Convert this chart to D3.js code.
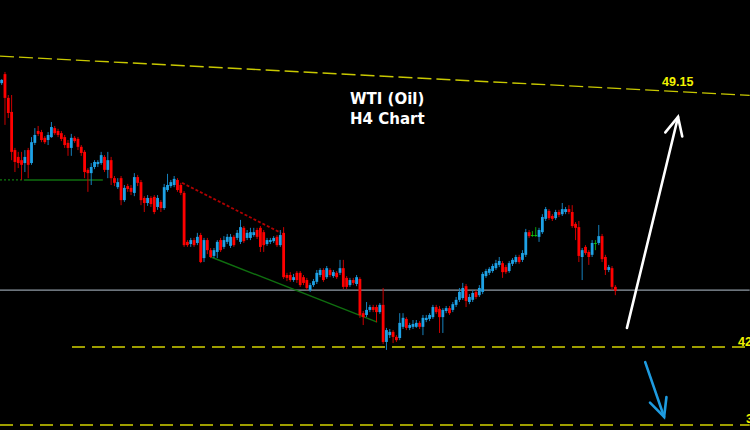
<!DOCTYPE html>
<html><head><meta charset="utf-8">
<script src="https://cdn.jsdelivr.net/npm/d3@7"></script>
<style>html,body{margin:0;padding:0;background:#000;overflow:hidden}</style>
</head><body><svg id="c" width="750" height="430"></svg>
<script>
// ---- H4 candles (WTI) ----
const opens = [49.33,49.58,48.92,48.53,47.47,47.28,47.19,47.11,47.47,47.11,
47.67,48.00,47.97,47.81,47.75,47.83,48.08,48.00,47.94,47.83,
47.67,47.53,47.81,47.78,47.56,47.42,46.92,46.83,47.00,47.08,
47.11,47.28,46.92,47.19,46.69,46.44,46.69,46.08,46.47,46.42,
46.28,46.72,46.58,46.14,46.00,46.14,46.17,45.89,46.03,45.86,
46.36,46.47,46.50,46.64,46.50,46.28,44.92,44.86,44.97,44.89,
45.11,44.47,44.97,44.69,44.53,44.64,44.97,44.78,44.92,44.81,
45.06,45.03,44.92,45.31,45.03,45.03,45.11,45.25,45.31,45.19,
44.86,44.92,44.94,45.06,44.83,45.17,44.00,44.00,43.86,44.06,
44.06,43.94,43.86,43.58,43.72,43.81,44.00,44.14,43.94,44.14,
43.97,44.06,44.06,44.19,43.92,43.72,43.86,43.75,43.89,42.94,
42.89,43.03,43.11,43.11,42.97,43.17,42.14,42.33,42.42,42.28,
42.25,42.56,42.78,42.53,42.56,42.56,42.67,42.56,42.75,42.78,
42.83,43.11,43.06,42.83,43.00,43.08,43.03,43.17,43.31,43.36,
43.69,43.25,43.31,43.53,43.44,43.53,43.97,44.06,44.11,44.19,
44.28,44.33,44.22,44.11,44.31,44.36,44.50,44.42,44.56,45.19,
45.11,45.11,45.06,45.19,45.56,45.78,45.64,45.58,45.75,45.69,
45.75,45.83,45.75,45.42,45.33,44.50,44.78,44.64,44.56,44.89,
44.89,45.08,44.50,44.14,44.19,43.67];
const closes = [49.42,48.92,48.50,47.42,47.14,47.11,47.06,47.28,47.06,47.69,
47.89,47.92,47.75,47.69,47.89,48.11,47.94,47.89,47.78,47.61,
47.53,47.81,47.72,47.56,47.39,46.86,46.83,47.00,47.14,47.14,
47.33,46.92,47.19,46.69,46.56,46.58,46.08,46.42,46.39,46.31,
46.72,46.56,46.08,46.00,46.14,45.97,45.75,46.14,45.86,46.44,
46.50,46.58,46.67,46.36,46.28,44.83,44.83,44.97,44.83,45.06,
44.36,44.97,44.69,44.50,44.69,44.92,44.69,44.97,45.06,45.06,
44.83,45.17,45.33,44.94,45.17,45.19,45.19,45.06,44.78,44.83,
44.97,44.97,45.03,44.83,45.11,43.94,43.92,43.86,43.94,43.86,
43.72,43.78,43.64,43.72,43.83,44.06,44.14,43.86,44.19,44.00,
44.08,43.94,44.19,43.67,43.67,43.86,43.78,43.94,42.89,42.83,
43.03,43.11,43.03,42.97,43.17,42.14,42.47,42.42,42.28,42.19,
42.67,42.81,42.53,42.61,42.64,42.67,42.56,42.81,42.81,42.89,
43.11,42.97,42.83,43.03,43.08,42.94,43.19,43.31,43.53,43.64,
43.28,43.39,43.50,43.39,43.64,44.03,44.11,44.17,44.25,44.33,
44.39,44.08,44.08,44.33,44.42,44.50,44.36,44.61,45.19,45.08,
45.11,45.11,45.25,45.61,45.83,45.58,45.56,45.75,45.67,45.83,
45.83,45.75,45.36,45.31,44.53,44.69,44.61,44.50,44.89,44.89,
45.08,44.44,44.14,44.22,43.67,43.56];
const highs = [49.44,49.64,49.00,49.00,47.53,47.42,47.42,47.47,47.53,47.83,
48.08,48.14,48.03,47.86,47.97,48.25,48.14,48.06,48.00,47.89,
47.75,47.92,47.86,47.83,47.61,47.47,46.97,47.11,47.19,47.19,
47.42,47.33,47.42,47.28,46.75,46.69,46.75,46.50,46.53,46.50,
46.83,46.78,46.64,46.19,46.22,46.19,46.22,46.22,46.08,46.53,
46.81,46.64,46.75,46.69,46.56,46.33,44.97,45.03,45.03,45.17,
45.17,45.03,45.03,44.75,44.75,44.97,45.03,45.08,45.14,45.14,
45.11,45.25,45.53,45.36,45.25,45.31,45.31,45.31,45.36,45.25,
45.03,45.03,45.08,45.11,45.25,45.33,44.06,44.08,44.03,44.11,
44.11,44.00,43.92,43.78,43.89,44.14,44.19,44.19,44.25,44.19,
44.14,44.11,44.42,44.42,43.97,43.92,43.92,44.00,43.94,43.00,
43.25,43.17,43.17,43.17,43.22,43.64,42.53,42.50,42.47,42.33,
42.94,42.94,42.83,42.67,42.75,42.75,42.72,42.89,42.89,42.94,
43.17,43.17,43.14,43.08,43.14,43.14,43.25,43.39,43.64,43.78,
43.75,43.47,43.58,43.58,43.72,44.08,44.17,44.22,44.31,44.42,
44.50,44.39,44.28,44.39,44.47,44.56,44.56,44.69,45.28,45.25,
45.22,45.33,45.31,45.69,45.89,45.83,45.69,45.81,45.81,46.00,
45.89,45.94,45.94,45.47,45.50,44.75,44.83,44.69,44.97,44.97,
45.39,45.14,44.56,44.28,44.25,43.72];
const lows = [49.28,48.17,48.36,47.19,46.86,46.97,46.64,46.86,46.69,47.06,
47.61,47.86,47.69,47.64,47.61,47.81,47.89,47.83,47.72,47.53,
47.31,47.31,47.67,47.47,47.31,46.69,46.31,46.50,46.94,47.00,
47.06,46.86,46.69,46.50,46.47,46.39,45.94,46.03,46.31,46.22,
46.19,46.47,45.94,45.75,45.92,45.89,45.69,45.81,45.75,45.81,
46.31,46.42,46.44,46.31,46.22,44.78,44.78,44.78,44.78,44.83,
44.33,44.36,44.58,44.47,44.47,44.47,44.64,44.72,44.86,44.75,
44.78,44.97,44.86,44.89,44.97,44.97,45.06,45.00,44.64,44.64,
44.81,44.86,44.89,44.78,44.78,43.89,43.83,43.81,43.81,43.78,
43.67,43.72,43.58,43.53,43.67,43.75,43.94,43.81,43.89,43.94,
43.92,43.89,44.00,43.61,43.61,43.67,43.72,43.69,42.81,42.61,
42.83,42.97,42.97,42.69,42.92,42.08,41.92,42.25,42.11,42.14,
42.19,42.50,42.47,42.47,42.50,42.53,42.50,42.33,42.69,42.72,
42.78,42.92,42.39,42.39,42.94,42.89,42.97,43.11,43.25,43.31,
43.11,43.19,43.25,43.33,43.39,43.47,43.92,44.00,44.06,44.14,
44.22,43.92,44.03,44.06,44.25,44.31,44.31,44.36,44.50,45.03,
45.06,45.06,44.92,45.14,45.50,45.53,45.50,45.53,45.61,45.64,
45.69,45.69,45.31,44.97,44.36,43.86,44.56,44.28,44.50,44.69,
44.83,44.36,44.00,44.08,43.58,43.44];

// ---- drawn objects (bar index, price) ----
const resistanceLine = [[0, 50.08], [226, 48.99]];
const level42Line = [[21.7, 42.00], [226, 42.00]];
const level39Line = [[0, 39.83], [226, 39.83]];
const grayLine = [[0, 43.58], [226, 43.58]];
const greenDotted = [[0, 46.64], [6.9, 46.64]];
const greenSolid = [[7.2, 46.64], [31.0, 46.64]];
const greenDiag = [[63.6, 44.50], [113.7, 42.69]];
const redDiag = [[54.9, 46.56], [84.7, 45.17]];
const upArrow = [[189.0, 42.53], [204.4, 48.39]];
const downArrow = [[194.5, 41.58], [200.2, 40.06]];
const priceLabels = [
  {text: "49.15", i: 199.6, p: 49.25},
  {text: "42.05", i: 222.5, p: 42.03},
  {text: "39.83", i: 224.9, p: 39.89}
];
const titleLines = ["WTI (Oil)", "H4 Chart"];

const W = 750, H = 430;
const svg = d3.select("#c");
svg.append("rect").attr("width", W).attr("height", H).attr("fill", "#000");

const x = d3.scaleLinear().domain([0, 186]).range([0, 617]);
const y = d3.scaleLinear().domain([42, 49]).range([347, 95]);
const line = d3.line().x(d => x(d[0])).y(d => y(d[1]));

const candles = opens.map((o, i) => ({i, o, c: closes[i], h: highs[i], l: lows[i]}));
const bodyCol = d => d.c > d.o ? "#1ea2e6" : (d.c < d.o ? "#ff0000" : "#10c010");
const wickCol = d => d.c > d.o ? "#1680bc" : (d.c < d.o ? "#cc0000" : "#0a9a0a");

// gray level line (behind candles)
svg.append("path").attr("d", line(grayLine)).attr("stroke", "#909ba6").attr("stroke-width", 1.3).attr("fill", "none");

// trendlines
svg.append("path").attr("d", line(resistanceLine)).attr("stroke", "#c8c800").attr("stroke-width", 1.4)
  .attr("stroke-dasharray", "14,5").attr("fill", "none");
svg.append("path").attr("d", line(greenDotted)).attr("stroke", "#0f7a0f").attr("stroke-width", 1.2)
  .attr("stroke-dasharray", "2,2").attr("fill", "none");
svg.append("path").attr("d", line(greenSolid)).attr("stroke", "#0f6e0f").attr("stroke-width", 1.4).attr("fill", "none");
svg.append("path").attr("d", line(greenDiag)).attr("stroke", "#0f6e0f").attr("stroke-width", 1.4).attr("fill", "none");
svg.append("path").attr("d", line(redDiag)).attr("stroke", "#b00000").attr("stroke-width", 1.8)
  .attr("stroke-dasharray", "3,2").attr("fill", "none");

// candles
const g = svg.append("g");
g.selectAll("line.w").data(candles).join("line")
  .attr("x1", d => x(d.i + 0.5)).attr("x2", d => x(d.i + 0.5))
  .attr("y1", d => y(d.h)).attr("y2", d => y(d.l))
  .attr("stroke", wickCol).attr("stroke-width", 1);
g.selectAll("rect.b").data(candles).join("rect")
  .attr("x", d => x(d.i + 0.5) - 1.4).attr("width", 2.8)
  .attr("y", d => y(Math.max(d.o, d.c)))
  .attr("height", d => Math.max(1, Math.abs(y(d.o) - y(d.c))))
  .attr("fill", bodyCol);

// horizontal dashed levels
[level42Line, level39Line].forEach(l => {
  svg.append("path").attr("d", line(l)).attr("stroke", "#d2d200").attr("stroke-width", 1.5)
    .attr("stroke-dasharray", "13,7").attr("fill", "none");
});

// arrows
function arrow(pts, color, wing) {
  const x0 = x(pts[0][0]), y0 = y(pts[0][1]), x1 = x(pts[1][0]), y1 = y(pts[1][1]);
  const a = Math.atan2(y0 - y1, x0 - x1);
  const w1 = [x1 + wing * Math.cos(a + 0.45), y1 + wing * Math.sin(a + 0.45)];
  const w2 = [x1 + wing * Math.cos(a - 0.45), y1 + wing * Math.sin(a - 0.45)];
  const ag = svg.append("g").attr("stroke", color).attr("stroke-width", 2.6).attr("fill", "none")
    .attr("stroke-linecap", "round");
  ag.append("path").attr("d", d3.line()([[x0, y0], [x1, y1]]));
  ag.append("path").attr("d", d3.line()([w1, [x1, y1], w2]));
}
arrow(upArrow, "#ffffff", 20);
arrow(downArrow, "#1e9be0", 20);

// price labels
svg.selectAll("text.pl").data(priceLabels).join("text")
  .attr("x", d => x(d.i)).attr("y", d => y(d.p))
  .attr("fill", "#f2f200").attr("font-family", "'Liberation Sans', Arial, sans-serif")
  .attr("font-weight", "bold").attr("font-size", 12.5).text(d => d.text);

// title
svg.selectAll("text.t").data(titleLines).join("text")
  .attr("x", 350).attr("y", (d, k) => 104 + k * 19.5)
  .attr("fill", "#ffffff").attr("font-family", "'DejaVu Sans', Verdana, sans-serif")
  .attr("font-weight", "bold").attr("font-size", 15).text(d => d);
</script></body></html>
